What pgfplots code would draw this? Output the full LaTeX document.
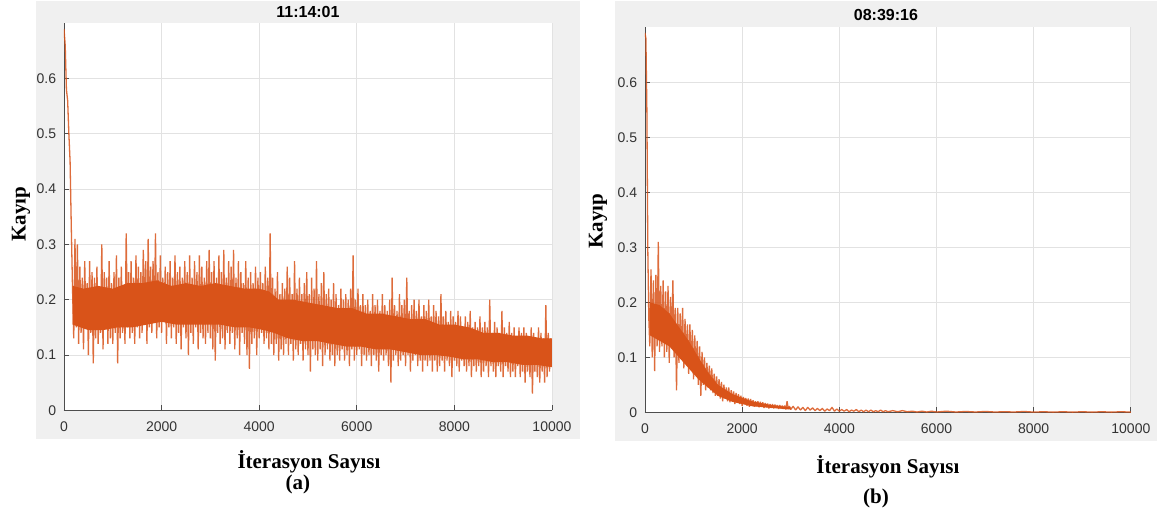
\documentclass[border=0pt]{standalone}
\usepackage{pgfplots}
\pgfplotsset{compat=1.18}
\usepackage{fontspec}
\setmainfont{Liberation Serif}
\newfontfamily\arial{Liberation Sans}

\definecolor{loss}{HTML}{D95319}
\definecolor{panel}{HTML}{F0F0F0}
\definecolor{axcol}{HTML}{4D4D4D}
\definecolor{tickc}{HTML}{333333}
\definecolor{gridc}{HTML}{E2E2E2}

\pgfplotsset{
    matlab/.style={
        scale only axis,
        xmin = 0, xmax = 10000,
        ymin = 0, ymax = 0.7,
        xtick = {0,2000,4000,6000,8000,10000},
        ytick = {0,0.1,0.2,0.3,0.4,0.5,0.6},
        axis x line* = bottom,
        axis y line* = left,
        axis line style = {axcol, line width=0.4pt},
        tick style = {axcol, line width=0.4pt},
        tick align = inside,
        major tick length = 2.5pt,
        grid = major,
        grid style = {gridc, line width=0.4pt},
        axis background/.style = {fill=white},
        ticklabel style = {font=\arial\fontsize{7}{8}\selectfont, text=tickc},
        /pgf/number format/assume math mode = true,
        /pgf/number format/1000 sep = {},
        scaled ticks = false,
        xticklabel style = {yshift=-2.2pt},
        yticklabel style = {/pgf/number format/fixed, /pgf/number format/precision=1, xshift=-0.4pt},
    },
    loss line/.style = {loss, line width=0.65pt, line join=bevel, opacity=0.85},
    loss core/.style = {fill=loss, draw=none},
}
\tikzset{
    lbl/.style = {font=\bfseries\fontsize{10.5}{12}\selectfont},
    ttl/.style = {font=\arial\bfseries\fontsize{8}{9}\selectfont},
}

\begin{document}
\begin{tikzpicture}
    % page frame and grey figure panels
    \path (0,0) rectangle (578.5pt,256.5pt);
    \fill[panel] (18pt,37.5pt) rectangle (290pt,256.5pt);
    \fill[panel] (307.5pt,36.5pt) rectangle (578.5pt,256.5pt);

    % (a)
    \begin{axis}[matlab, at={(32pt,52pt)}, width=244pt, height=193.5pt]
        % dense core of the noisy band (upper edge, then lower edge back)
        \addplot[loss core] coordinates {
            (175,0.225)(400,0.22)(700,0.225)(1000,0.22)(1300,0.23)(1600,0.23)(1900,0.235)(2200,0.225)
            (2500,0.23)(2800,0.225)(3100,0.23)(3400,0.225)(3700,0.22)(4000,0.22)(4200,0.215)(4400,0.20)
            (4700,0.20)(5000,0.195)(5300,0.19)(5600,0.185)(5900,0.185)(6200,0.175)(6500,0.175)(6800,0.17)
            (7100,0.165)(7400,0.165)(7700,0.155)(8000,0.155)(8300,0.15)(8600,0.14)(8900,0.14)(9200,0.135)
            (9500,0.135)(9800,0.13)(10000,0.13)
            (10000,0.078)(9700,0.082)(9400,0.082)(9100,0.087)(8800,0.087)(8500,0.092)(8200,0.092)(7900,0.097)
            (7600,0.10)(7300,0.10)(7000,0.105)(6700,0.11)(6400,0.11)(6100,0.115)(5800,0.115)(5500,0.12)
            (5200,0.125)(4900,0.125)(4600,0.13)(4300,0.14)(4100,0.145)(3800,0.15)(3500,0.15)(3200,0.155)
            (2900,0.155)(2600,0.155)(2300,0.155)(2000,0.16)(1700,0.155)(1400,0.15)(1100,0.15)(800,0.145)
            (500,0.145)(175,0.155)
        } -- cycle;
        \addplot[loss line] coordinates {
            (0,0.69)(25,0.66)(50,0.58)(75,0.56)(100,0.50)(125,0.45)(150,0.33)(175,0.22)
            (200,0.13)(225,0.31)(250,0.15)(275,0.30)(300,0.12)(325,0.26)(350,0.14)(375,0.24)
            (400,0.11)(425,0.27)(450,0.15)(475,0.23)(500,0.10)(525,0.27)(550,0.14)(575,0.25)
            (600,0.085)(625,0.24)(650,0.13)(675,0.26)(700,0.12)(725,0.22)(750,0.14)(775,0.30)
            (800,0.11)(825,0.25)(850,0.15)(875,0.24)(900,0.12)(925,0.27)(950,0.13)(975,0.23)
            (1000,0.12)(1025,0.25)(1050,0.14)(1075,0.28)(1100,0.085)(1125,0.24)(1150,0.13)(1175,0.26)
            (1200,0.14)(1225,0.22)(1250,0.12)(1275,0.32)(1300,0.15)(1325,0.25)(1350,0.13)(1375,0.27)
            (1400,0.14)(1425,0.24)(1450,0.12)(1475,0.28)(1500,0.15)(1525,0.26)(1550,0.13)(1575,0.25)
            (1600,0.14)(1625,0.29)(1650,0.16)(1675,0.27)(1700,0.12)(1725,0.31)(1750,0.15)(1775,0.26)
            (1800,0.14)(1825,0.27)(1850,0.16)(1875,0.32)(1900,0.13)(1925,0.25)(1950,0.15)(1975,0.28)
            (2000,0.14)(2025,0.24)(2050,0.16)(2075,0.26)(2100,0.12)(2125,0.25)(2150,0.15)(2175,0.27)
            (2200,0.13)(2225,0.24)(2250,0.15)(2275,0.28)(2300,0.12)(2325,0.25)(2350,0.14)(2375,0.26)
            (2400,0.11)(2425,0.24)(2450,0.15)(2475,0.27)(2500,0.13)(2525,0.25)(2550,0.10)(2575,0.28)
            (2600,0.14)(2625,0.24)(2650,0.12)(2675,0.27)(2700,0.15)(2725,0.25)(2750,0.11)(2775,0.28)
            (2800,0.14)(2825,0.26)(2850,0.13)(2875,0.24)(2900,0.12)(2925,0.27)(2950,0.14)(2975,0.29)
            (3000,0.13)(3025,0.25)(3050,0.11)(3075,0.27)(3100,0.09)(3125,0.24)(3150,0.14)(3175,0.28)
            (3200,0.12)(3225,0.25)(3250,0.13)(3275,0.29)(3300,0.11)(3325,0.24)(3350,0.14)(3375,0.27)
            (3400,0.12)(3425,0.26)(3450,0.14)(3475,0.29)(3500,0.11)(3525,0.24)(3550,0.13)(3575,0.27)
            (3600,0.10)(3625,0.25)(3650,0.14)(3675,0.23)(3700,0.12)(3725,0.27)(3750,0.10)(3775,0.24)
            (3800,0.075)(3825,0.25)(3850,0.12)(3875,0.23)(3900,0.13)(3925,0.26)(3950,0.10)(3975,0.24)
            (4000,0.13)(4025,0.25)(4050,0.14)(4075,0.23)(4100,0.12)(4125,0.26)(4150,0.13)(4175,0.24)
            (4200,0.11)(4225,0.32)(4250,0.12)(4275,0.24)(4300,0.10)(4325,0.22)(4350,0.12)(4375,0.25)
            (4400,0.09)(4425,0.21)(4450,0.11)(4475,0.23)(4500,0.10)(4525,0.22)(4550,0.12)(4575,0.26)
            (4600,0.10)(4625,0.24)(4650,0.12)(4675,0.21)(4700,0.09)(4725,0.27)(4750,0.11)(4775,0.22)
            (4800,0.10)(4825,0.24)(4850,0.12)(4875,0.21)(4900,0.09)(4925,0.23)(4950,0.11)(4975,0.25)
            (5000,0.10)(5025,0.21)(5050,0.07)(5075,0.24)(5100,0.11)(5125,0.22)(5150,0.10)(5175,0.27)
            (5200,0.09)(5225,0.21)(5250,0.11)(5275,0.23)(5300,0.08)(5325,0.25)(5350,0.10)(5375,0.21)
            (5400,0.11)(5425,0.22)(5450,0.09)(5475,0.20)(5500,0.10)(5525,0.23)(5550,0.08)(5575,0.21)
            (5600,0.10)(5625,0.19)(5650,0.09)(5675,0.22)(5700,0.11)(5725,0.20)(5750,0.09)(5775,0.21)
            (5800,0.10)(5825,0.20)(5850,0.08)(5875,0.22)(5900,0.11)(5925,0.28)(5950,0.09)(5975,0.20)
            (6000,0.10)(6025,0.22)(6050,0.11)(6075,0.19)(6100,0.08)(6125,0.21)(6150,0.10)(6175,0.19)
            (6200,0.09)(6225,0.20)(6250,0.10)(6275,0.18)(6300,0.08)(6325,0.21)(6350,0.10)(6375,0.19)
            (6400,0.09)(6425,0.20)(6450,0.07)(6475,0.18)(6500,0.10)(6525,0.21)(6550,0.09)(6575,0.19)
            (6600,0.10)(6625,0.18)(6650,0.08)(6675,0.20)(6700,0.05)(6725,0.24)(6750,0.09)(6775,0.19)
            (6800,0.10)(6825,0.18)(6850,0.08)(6875,0.21)(6900,0.09)(6925,0.19)(6950,0.10)(6975,0.20)
            (7000,0.08)(7025,0.24)(7050,0.10)(7075,0.18)(7100,0.07)(7125,0.19)(7150,0.09)(7175,0.20)
            (7200,0.10)(7225,0.18)(7250,0.08)(7275,0.20)(7300,0.09)(7325,0.17)(7350,0.07)(7375,0.19)
            (7400,0.09)(7425,0.18)(7450,0.08)(7475,0.20)(7500,0.09)(7525,0.17)(7550,0.07)(7575,0.19)
            (7600,0.09)(7625,0.18)(7650,0.07)(7675,0.17)(7700,0.08)(7725,0.21)(7750,0.09)(7775,0.17)
            (7800,0.07)(7825,0.18)(7850,0.09)(7875,0.16)(7900,0.08)(7925,0.18)(7950,0.06)(7975,0.17)
            (8000,0.09)(8025,0.16)(8050,0.08)(8075,0.18)(8100,0.07)(8125,0.17)(8150,0.09)(8175,0.15)
            (8200,0.08)(8225,0.17)(8250,0.07)(8275,0.16)(8300,0.08)(8325,0.18)(8350,0.06)(8375,0.15)
            (8400,0.08)(8425,0.16)(8450,0.07)(8475,0.15)(8500,0.08)(8525,0.17)(8550,0.06)(8575,0.15)
            (8600,0.07)(8625,0.16)(8650,0.08)(8675,0.15)(8700,0.06)(8725,0.20)(8750,0.08)(8775,0.14)
            (8800,0.07)(8825,0.16)(8850,0.06)(8875,0.15)(8900,0.08)(8925,0.14)(8950,0.07)(8975,0.18)
            (9000,0.06)(9025,0.15)(9050,0.08)(9075,0.14)(9100,0.07)(9125,0.16)(9150,0.06)(9175,0.14)
            (9200,0.07)(9225,0.15)(9250,0.06)(9275,0.13)(9300,0.08)(9325,0.15)(9350,0.06)(9375,0.14)
            (9400,0.07)(9425,0.15)(9450,0.05)(9475,0.14)(9500,0.07)(9525,0.13)(9550,0.06)(9575,0.15)
            (9600,0.03)(9625,0.14)(9650,0.07)(9675,0.13)(9700,0.06)(9725,0.15)(9750,0.05)(9775,0.14)
            (9800,0.07)(9825,0.13)(9850,0.05)(9875,0.19)(9900,0.06)(9925,0.14)(9950,0.07)(9975,0.13)
            (10000,0.09)
        };
    \end{axis}

    % (b)
    \begin{axis}[matlab, at={(322.5pt,51pt)}, width=243pt, height=192.5pt]
        \addplot[loss core] coordinates {
            (100,0.20)(300,0.195)(500,0.18)(700,0.155)(900,0.13)(1100,0.10)(1300,0.072)(1500,0.05)
            (1800,0.033)(2200,0.02)(2600,0.013)(3000,0.009)
            (3000,0.005)(2600,0.008)(2200,0.011)(1800,0.019)(1500,0.03)(1300,0.045)(1100,0.06)
            (900,0.08)(700,0.10)(500,0.12)(300,0.13)(100,0.14)
        } -- cycle;
        \addplot[loss line] coordinates {
            (0,0.69)(20,0.68)(40,0.55)(60,0.29)(80,0.17)
            (100,0.12)(125,0.26)(150,0.10)(175,0.24)(200,0.075)(225,0.25)(250,0.12)(275,0.31)
            (300,0.11)(325,0.23)(350,0.12)(375,0.24)(400,0.10)(425,0.22)(450,0.11)(475,0.23)
            (500,0.09)(525,0.21)(550,0.12)(575,0.24)(600,0.10)(625,0.19)(650,0.04)(675,0.19)
            (700,0.09)(725,0.18)(750,0.10)(775,0.19)(800,0.08)(825,0.17)(850,0.09)(875,0.16)
            (900,0.07)(925,0.16)(950,0.08)(975,0.15)(1000,0.06)(1025,0.14)(1050,0.07)(1075,0.13)
            (1100,0.05)(1125,0.12)(1150,0.03)(1175,0.11)(1200,0.05)(1225,0.10)(1250,0.04)(1275,0.09)
            (1300,0.045)(1325,0.085)(1350,0.04)(1375,0.08)(1400,0.035)(1425,0.07)(1450,0.03)(1475,0.065)
            (1500,0.03)(1525,0.06)(1550,0.025)(1575,0.055)(1600,0.02)(1625,0.05)(1650,0.025)(1675,0.045)
            (1700,0.02)(1725,0.045)(1750,0.018)(1775,0.04)(1800,0.02)(1825,0.038)(1850,0.015)(1875,0.035)
            (1900,0.018)(1925,0.033)(1950,0.015)(1975,0.03)(2000,0.012)(2025,0.028)(2050,0.015)(2075,0.026)
            (2100,0.012)(2125,0.025)(2150,0.01)(2175,0.024)(2200,0.012)(2225,0.022)(2250,0.01)(2275,0.02)
            (2300,0.011)(2325,0.02)(2350,0.009)(2375,0.019)(2400,0.01)(2425,0.018)(2450,0.008)(2475,0.017)
            (2500,0.009)(2525,0.016)(2550,0.007)(2575,0.015)(2600,0.008)(2625,0.015)(2650,0.007)(2675,0.014)
            (2700,0.008)(2725,0.013)(2750,0.006)(2775,0.013)(2800,0.007)(2825,0.012)(2850,0.006)(2875,0.012)
            (2900,0.005)(2925,0.02)(2950,0.006)(2975,0.011)(3000,0.005)
            (3050,0.011)(3100,0.004)(3150,0.01)(3200,0.004)(3250,0.009)(3300,0.003)(3350,0.009)(3400,0.004)
            (3450,0.008)(3500,0.003)(3550,0.007)(3600,0.003)(3650,0.007)(3700,0.002)(3750,0.006)(3800,0.003)
            (3850,0.009)(3900,0.002)(3950,0.006)(4000,0.002)(4050,0.005)(4100,0.002)(4150,0.005)(4200,0.001)
            (4250,0.004)(4300,0.002)(4350,0.005)(4400,0.001)(4450,0.004)(4500,0.001)(4550,0.004)(4600,0.001)
            (4650,0.004)(4700,0.001)(4750,0.003)(4800,0.001)(4850,0.004)(4900,0.001)(4950,0.003)(5000,0.001)
            (5100,0.003)(5200,0.001)(5300,0.003)(5400,0.001)(5500,0.002)(5600,0.0005)(5700,0.002)(5800,0.0005)
            (5900,0.002)(6000,0.0005)(6200,0.002)(6400,0.0005)(6600,0.0015)(6800,0.0005)(7000,0.0015)(7200,0.0005)
            (7400,0.001)(7600,0.0005)(7800,0.0015)(8000,0.0003)(8200,0.001)(8400,0.0003)(8600,0.001)(8800,0.0003)
            (9000,0.001)(9200,0.0003)(9400,0.001)(9600,0.0003)(9800,0.001)(10000,0.0003)
        };
    \end{axis}

    % titles and labels
    \node[ttl] at (154pt,251pt) {11:14:01};
    \node[ttl] at (443pt,249.5pt) {08:39:16};
    \node[lbl, rotate=90] at (10.5pt,150pt) {Kayıp};
    \node[lbl, rotate=90] at (299pt,146.5pt) {Kayıp};
    \node[lbl, anchor=base] at (154.5pt,23pt) {İterasyon Sayısı};
    \node[lbl, anchor=base] at (149pt,12.5pt) {(a)};
    \node[lbl, anchor=base] at (444pt,20.5pt) {İterasyon Sayısı};
    \node[lbl, anchor=base] at (438pt,5.5pt) {(b)};
\end{tikzpicture}
\end{document}
